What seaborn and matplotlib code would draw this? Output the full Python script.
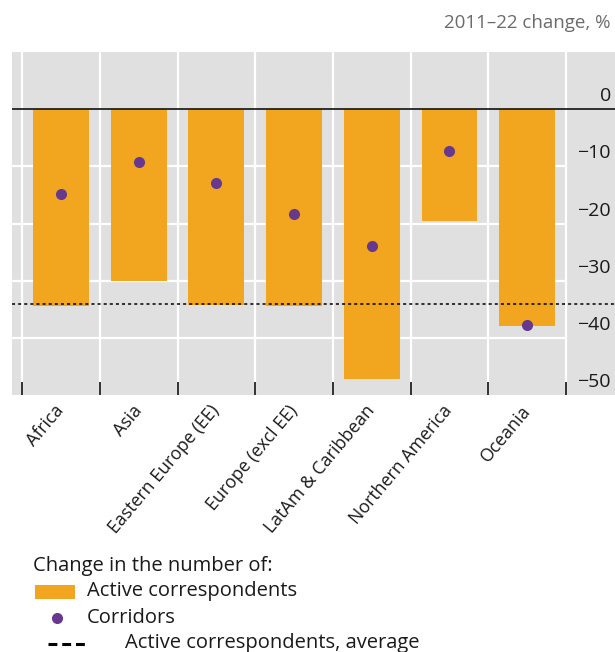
import matplotlib
matplotlib.use("Agg")
import matplotlib.pyplot as plt
import matplotlib.transforms as mtransforms
from matplotlib.patches import Rectangle
from matplotlib.lines import Line2D
import seaborn as sns
import pandas as pd

# Regional change in correspondent banking, 2011-22 (%)
regions = ["Africa", "Asia", "Eastern Europe (EE)", "Europe (excl EE)",
           "LatAm & Caribbean", "Northern America", "Oceania"]
active_correspondents = [-34.5, -30.0, -34.3, -34.5, -47.2, -19.5, -38.0]
corridors = [-14.9, -9.3, -13.0, -18.4, -24.0, -7.3, -37.8]
active_average = -34.1
y_ticks = [0, -10, -20, -30, -40, -50]
y_tick_labels = ["0", "\u221210", "\u221220", "\u221230", "\u221240", "\u221250"]

sns.set_style("white")
plt.rcParams["font.family"] = ["Open Sans", "DejaVu Sans"]

ORANGE = "#F2A620"
PURPLE = "#66398F"
PANEL = "#E0E0E0"
TEXT = "#1a1a1a"

df = pd.DataFrame({"region": regions,
                   "active": active_correspondents,
                   "corridors": corridors})

W, H = 615, 652
fig = plt.figure(figsize=(W / 100, H / 100), dpi=100)
ax = fig.add_axes([12 / W, 1 - 395 / H, 603 / W, (395 - 52) / H])
ax.set_facecolor(PANEL)

sns.barplot(data=df, x="region", y="active", color=ORANGE, saturation=1,
            width=0.72, linewidth=0, edgecolor=ORANGE, ax=ax, zorder=3)
sns.stripplot(data=df, x="region", y="corridors", color=PURPLE, jitter=False,
              size=8, linewidth=0, ax=ax, zorder=6)

xlim = (-0.63, 7.13)
ymin, ymax = -50, 10
ax.set_xlim(xlim)
ax.set_ylim(ymin, ymax)

# panel grid: white separators between regions and horizontal guides
bounds = [i - 0.5 for i in range(len(regions) + 1)]
ax.vlines(bounds, ymin, ymax, color="white", lw=1.6, zorder=1)
ax.hlines(y_ticks[1:-1], xlim[0], bounds[-1], color="white", lw=1.6, zorder=1)
# short black tick marks rising from the bottom edge at each separator
ax.vlines(bounds, ymin, ymin + 2.2, color="#222222", lw=1.3, zorder=2)
ax.axhline(0, color="#222222", lw=1.3, zorder=4)
ax.axhline(active_average, color="black", lw=1.1, ls=(0, (2, 2)), zorder=5)

for s in ax.spines.values():
    s.set_visible(False)

ax.set_xlabel("")
ax.set_ylabel("")
ax.set_xticks(range(len(regions)))
ax.set_xticklabels(regions, rotation=50, ha="right", va="center",
                   rotation_mode="anchor", fontsize=12.8, color=TEXT)
ax.tick_params(axis="x", which="major", length=0, pad=9)

ax.yaxis.tick_right()
ax.set_yticks(y_ticks)
ax.set_yticklabels(y_tick_labels)
ax.tick_params(axis="y", length=0, pad=0, labelsize=14, labelcolor=TEXT)
shift = mtransforms.ScaledTranslation(-4 / 100, 13 / 100, fig.dpi_scale_trans)
for lab in ax.get_yticklabels():
    lab.set_ha("right")
    lab.set_va("center")
    lab.set_transform(lab.get_transform() + shift)

fig.text(611 / W, 1 - 23 / H, "2011\u201322 change, %", ha="right", va="center",
         fontsize=13.5, color="#6b6b6b")

# legend block
def fx(px):
    return px / W

def fy(py):
    return 1 - py / H

LEG = 14.5
fig.text(fx(33), fy(566), "Change in the number of:", fontsize=LEG,
         va="center", color=TEXT)
fig.add_artist(Rectangle((fx(35), fy(599)), 40 / W, 14 / H,
                         transform=fig.transFigure, color=ORANGE, lw=0))
fig.text(fx(87), fy(591), "Active correspondents", fontsize=LEG,
         va="center", color=TEXT)
fig.add_artist(Line2D([fx(57)], [fy(618)], marker="o", ms=8, mew=0,
                      color=PURPLE, transform=fig.transFigure))
fig.text(fx(87), fy(618), "Corridors", fontsize=LEG, va="center", color=TEXT)
fig.add_artist(Line2D([fx(48), fx(85)], [fy(644), fy(644)], lw=2.2,
                      ls=(0, (2.9, 1.6)), color="black",
                      transform=fig.transFigure))
fig.text(fx(125), fy(643), "Active correspondents, average", fontsize=LEG,
         va="center", color=TEXT)

fig.savefig("out.png", dpi=100)
